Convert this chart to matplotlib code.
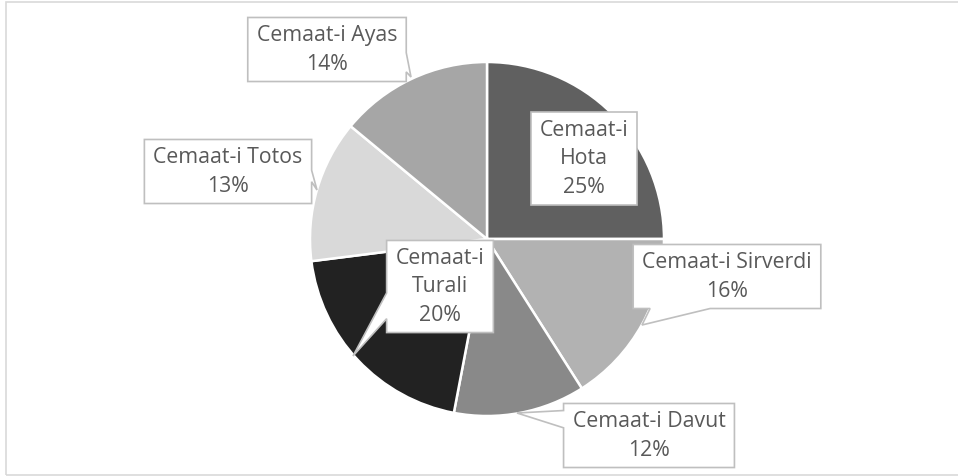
import matplotlib.pyplot as plt
from matplotlib.patches import Rectangle, Polygon

# datos del grafico
names = ['Cemaat-i Hota', 'Cemaat-i Sirverdi', 'Cemaat-i Davut',
         'Cemaat-i Turali', 'Cemaat-i Totos', 'Cemaat-i Ayas']
values = [25, 16, 12, 20, 13, 14]
colors = ['#606060', '#b2b2b2', '#898989', '#222222', '#d9d9d9', '#a6a6a6']

W, H = 958, 477
fig = plt.figure(figsize=(W / 100, H / 100), dpi=100)
ax = fig.add_axes([0, 0, 1, 1])

cx, cy, r = 487, H - 240, 177
ax.pie(values, colors=colors, startangle=90, counterclock=False,
       center=(cx, cy), radius=r, frame=True,
       wedgeprops=dict(edgecolor='white', linewidth=1.8))
ax.set_xlim(0, W)
ax.set_ylim(0, H)
ax.set_aspect('equal')
ax.axis('off')

# marco del area del grafico
ax.add_patch(Rectangle((6, 1), W + 20, H - 4, fill=False, ec='#d9d9d9',
                       lw=1.2, clip_on=False))

# centro de cada caja y punta del globo (pixeles medidos desde arriba)
label_pos = [(584, 159), (727, 277), (649, 436), (440, 287), (228, 172), (327, 50)]
tips = [None, (642, 326), (517, 414), (353, 357), (317, 191), (411, 78)]
# lado de la caja donde sale la punta y tramo (fraccion) que ocupa
sides = [None, ('bottom', 0.09, 0.41), ('left', 0.11, 0.38), ('left', 0.57, 0.85),
         ('right', 0.48, 0.66), ('right', 0.55, 0.85)]
wrap = [True, False, False, True, False, False]


def callout(x0, y0, x1, y1, side, tip):
    # caja con la punta insertada en un lado (coordenadas con y hacia arriba)
    w, h = x1 - x0, y1 - y0
    bl, br, tr, tl = (x0, y0), (x1, y0), (x1, y1), (x0, y1)
    if side is None:
        return [bl, br, tr, tl]
    s, f0, f1 = side
    if s == 'bottom':
        return [bl, (x0 + f0 * w, y0), tip, (x0 + f1 * w, y0), br, tr, tl]
    ya, yb = y1 - f0 * h, y1 - f1 * h
    if s == 'right':
        return [bl, br, (x1, yb), tip, (x1, ya), tr, tl]
    return [bl, br, tr, tl, (x0, ya), tip, (x0, yb)]


renderer = fig.canvas.get_renderer()
for i, (name, v) in enumerate(zip(names, values)):
    txt = name.replace(' ', '\n') if wrap[i] else name
    txt = f'{txt}\n{v}%'
    x, y = label_pos[i]
    t = ax.text(x, H - y, txt, ha='center', va='center', fontsize=15.3,
                color='#595959', family='Open Sans', linespacing=1.44, zorder=6)
    bb = t.get_window_extent(renderer).transformed(ax.transData.inverted())
    tip = None if tips[i] is None else (tips[i][0], H - tips[i][1])
    verts = callout(bb.x0 - 9, bb.y0 - 8, bb.x1 + 9, bb.y1 + 7, sides[i], tip)
    ax.add_patch(Polygon(verts, closed=True, fc='white', ec='#bfbfbf',
                         lw=1.2, zorder=5))

fig.savefig('out.png', dpi=100)
